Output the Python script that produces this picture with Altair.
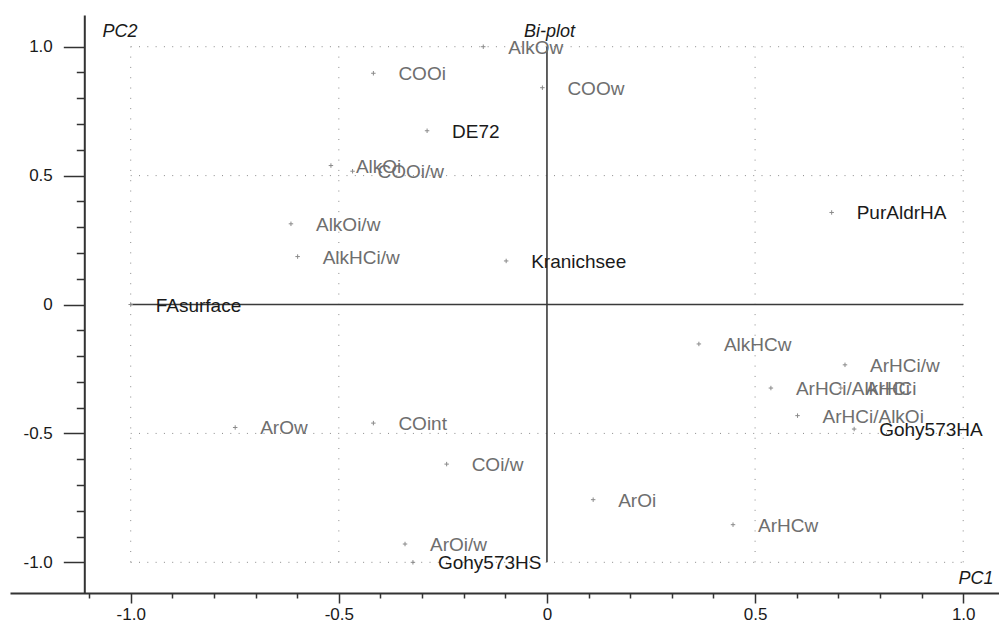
import json

import altair as alt
import pandas as pd

# PCA bi-plot: variable loadings and sample scores on PC1 / PC2
names = [
    "AlkOw", "COOi", "COOw", "DE72", "AlkOi", "COOi/w", "AlkOi/w", "AlkHCi/w",
    "FAsurface", "Kranichsee", "PurAldrHA", "AlkHCw", "ArHCi/w", "ArHCi/AlkHCi",
    "ArHCi", "ArHCi/AlkOi", "Gohy573HA", "ArOw", "COint", "COi/w", "ArOi",
    "ArHCw", "ArOi/w", "Gohy573HS",
]
pc1 = [
    -0.153, -0.417, -0.011, -0.288, -0.519, -0.467, -0.615, -0.599,
    -1.000, -0.098, 0.684, 0.365, 0.716, 0.538,
    0.706, 0.602, 0.738, -0.749, -0.417, -0.241, 0.111,
    0.447, -0.341, -0.322,
]
pc2 = [
    1.000, 0.897, 0.841, 0.674, 0.539, 0.517, 0.313, 0.186,
    0.000, 0.169, 0.357, -0.153, -0.234, -0.324,
    -0.324, -0.431, -0.483, -0.477, -0.460, -0.619, -0.757,
    -0.854, -0.929, -1.000,
]
samples = ["DE72", "FAsurface", "Kranichsee", "PurAldrHA", "Gohy573HA", "Gohy573HS"]

major_ticks = [-1.0, -0.5, 0.0, 0.5, 1.0]
major_labels = ["-1.0", "-0.5", "0", "0.5", "1.0"]
x_minor_ticks = [-1.1, -0.9, -0.8, -0.7, -0.6, -0.4, -0.3, -0.2, -0.1,
                 0.1, 0.2, 0.3, 0.4, 0.6, 0.7, 0.8, 0.9]
y_minor_ticks = [-0.9, -0.8, -0.7, -0.6, -0.4, -0.3, -0.2, -0.1,
                 0.1, 0.2, 0.3, 0.4, 0.6, 0.7, 0.8, 0.9]
grid_at = [-1.0, -0.5, 0.5, 1.0]

points = pd.DataFrame({
    "name": names,
    "pc1": pc1,
    "pc2": pc2,
    "kind": ["sample" if n in samples else "variable" for n in names],
})
grid = pd.DataFrame({"g": grid_at, "lo": -1.0, "hi": 1.0})
zero = pd.DataFrame({"g": [0.0], "lo": [-1.0], "hi": [1.0]})

FONT = "Liberation Sans, Arial, Helvetica, sans-serif"
INK = "#1a1a1a"
AXIS_INK = "#333333"

xs = alt.Scale(domain=[-1.29, 1.086], nice=False, zero=False)
ys = alt.Scale(domain=[-1.119, 1.123], nice=False, zero=False)

label_expr = f"{json.dumps(major_labels)}[indexof({json.dumps(major_ticks)}, datum.value)]"

common_axis = dict(
    grid=False, tickColor=AXIS_INK, tickWidth=1.5, domainColor=AXIS_INK,
    domainWidth=2, labelFont=FONT, labelFontSize=17, labelColor=INK,
    titleFont=FONT, titleFontSize=18, titleFontStyle="italic",
    titleFontWeight="normal", titleColor=INK,
)

x_major = alt.Axis(
    orient="bottom", values=major_ticks, labelExpr=label_expr, tickSize=10,
    labelPadding=3, labelFlush=False, labelOverlap=False, title="PC1",
    titleX=948, titleY=-15, titleAlign="left", titleBaseline="middle",
    titleAngle=0, **common_axis,
)
y_major = alt.Axis(
    orient="left", offset=-74.3, values=major_ticks, labelExpr=label_expr,
    tickSize=21, labelPadding=11, labelFlush=False, labelOverlap=False,
    title="PC2", titleX=17.7, titleY=16, titleAlign="left",
    titleBaseline="middle", titleAngle=0, **common_axis,
)
x_minor = alt.Axis(
    orient="bottom", values=x_minor_ticks, labels=False, domain=False,
    tickSize=5, title=None, grid=False, tickColor=AXIS_INK, tickWidth=1.5,
)
y_minor = alt.Axis(
    orient="left", offset=-74.3, values=y_minor_ticks, labels=False,
    domain=False, tickSize=8, title=None, grid=False, tickColor=AXIS_INK,
    tickWidth=1.5,
)

# dotted reference grid inside the unit square
grid_v = alt.Chart(grid).mark_rule(
    color="#8a8a8a", strokeWidth=1, strokeDash=[1, 9.3]
).encode(
    x=alt.X("g:Q", scale=xs, axis=x_major),
    y=alt.Y("lo:Q", scale=ys, axis=y_major),
    y2="hi:Q",
)
grid_h = alt.Chart(grid).mark_rule(
    color="#8a8a8a", strokeWidth=1, strokeDash=[1, 7.3]
).encode(
    y=alt.Y("g:Q", scale=ys, axis=None),
    x=alt.X("lo:Q", scale=xs, axis=None),
    x2="hi:Q",
)

# solid zero lines through the origin
zero_v = alt.Chart(zero).mark_rule(color="#3a3a3a", strokeWidth=1.6).encode(
    x=alt.X("g:Q", scale=xs, axis=x_minor),
    y=alt.Y("lo:Q", scale=ys, axis=y_minor),
    y2="hi:Q",
)
zero_h = alt.Chart(zero).mark_rule(color="#3a3a3a", strokeWidth=1.6).encode(
    y=alt.Y("g:Q", scale=ys, axis=None),
    x=alt.X("lo:Q", scale=xs, axis=None),
    x2="hi:Q",
)

markers = alt.Chart(points).mark_point(
    shape="M-1,0L1,0M0,-1L0,1", size=20, strokeWidth=1, color="#8a8a8a",
    filled=False, opacity=1,
).encode(
    x=alt.X("pc1:Q", scale=xs, axis=None),
    y=alt.Y("pc2:Q", scale=ys, axis=None),
)

labels = alt.Chart(points).mark_text(
    align="left", baseline="middle", dx=25, dy=1, font=FONT, fontSize=19,
).encode(
    x=alt.X("pc1:Q", scale=xs, axis=None),
    y=alt.Y("pc2:Q", scale=ys, axis=None),
    text="name:N",
    color=alt.Color(
        "kind:N",
        scale=alt.Scale(domain=["variable", "sample"], range=["#6e6e6e", INK]),
        legend=None,
    ),
)

chart = (
    alt.layer(grid_v, grid_h, zero_v, zero_h, markers, labels)
    .resolve_axis(x="independent", y="independent")
    .properties(
        width=989,
        height=578,
        padding={"left": 10, "top": 15, "right": 0, "bottom": 30},
        autosize=alt.AutoSizeParams(type="none"),
        background="white",
        title=alt.TitleParams(
            "Bi-plot", anchor="middle", dx=45, dy=35, offset=0,
            baseline="middle", font=FONT, fontSize=18, fontStyle="italic",
            fontWeight="normal", color=INK,
        ),
    )
    .configure_view(stroke=None)
)

chart.save("out.html", embed_options={"renderer": "svg", "actions": False})
